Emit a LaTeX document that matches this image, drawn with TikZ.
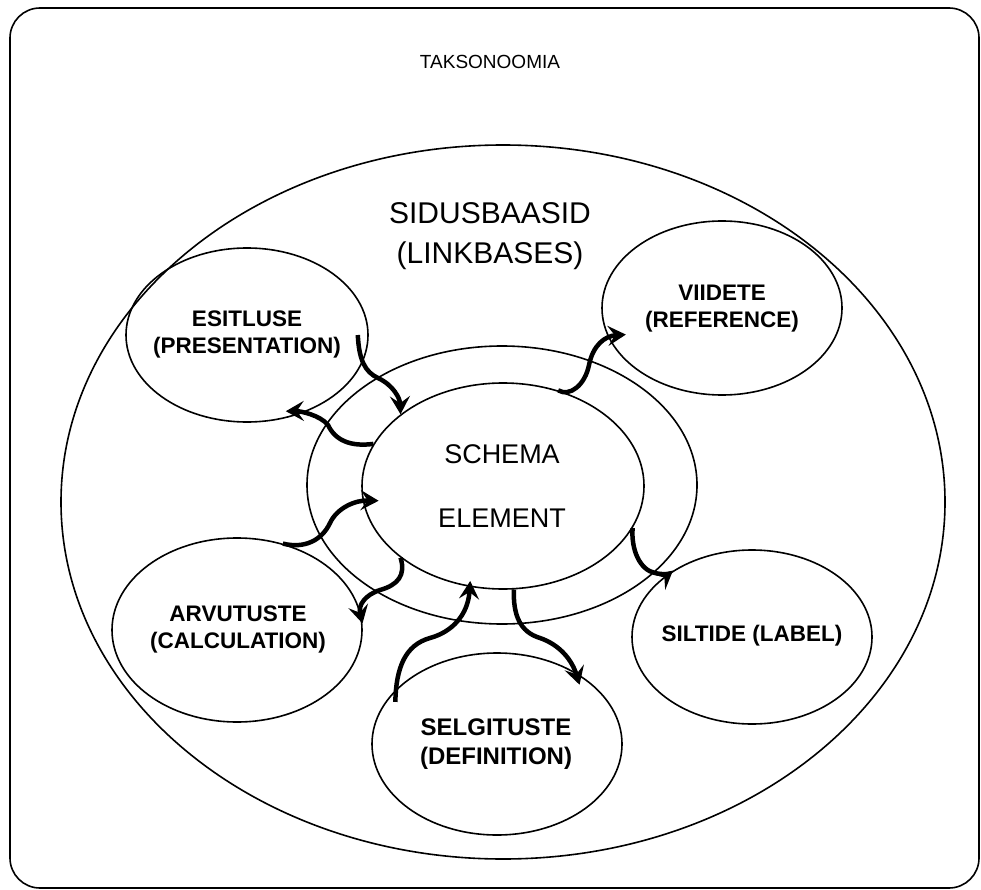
\documentclass[tikz,border=0pt]{standalone}
\usepackage{fontspec}
\setmainfont{Liberation Sans}
\usetikzlibrary{shapes.geometric,arrows.meta}
\tikzset{
  oval/.style={ellipse, draw, line width=1.6pt, inner sep=0pt},
  satlabel/.style={font=\bfseries\fontsize{22.5}{27}\selectfont, align=center},
  flow/.style={line width=4.5pt, -{Stealth[length=18pt,width=20pt,inset=7pt]}},
}
\begin{document}
\begin{tikzpicture}[x=1pt,y=-1pt]
\useasboundingbox (0,0) rectangle (981,890);
\draw[line width=1.6pt, rounded corners=30pt] (10,8) rectangle (979,888);
\node[font=\fontsize{19}{23}\selectfont] (title) at (490,62) {TAKSONOOMIA};
\node[oval, minimum width=884pt, minimum height=714pt] (big) at (503,502) {};
\node[font=\fontsize{30}{40}\selectfont, align=center] (links) at (490,236) {SIDUSBAASID\\(LINKBASES)};
\node[oval, minimum width=390pt, minimum height=278pt] (ring) at (502,485) {};
\node[oval, minimum width=282pt, minimum height=206pt] (inner) at (503,486) {};
\node[font=\fontsize{27}{64}\selectfont, align=center] (innerL) at (502,486) {SCHEMA\\ELEMENT};
\node[oval, minimum width=242pt, minimum height=174pt] (esit) at (247,335) {};
\node[satlabel] (esitL) at (247,334) {ESITLUSE\\(PRESENTATION)};
\node[oval, minimum width=250pt, minimum height=184pt] (arv) at (237,630) {};
\node[satlabel] (arvL) at (238,629) {ARVUTUSTE\\(CALCULATION)};
\node[oval, minimum width=240pt, minimum height=174pt] (vii) at (722,308) {};
\node[satlabel] (viiL) at (722,309) {VIIDETE\\(REFERENCE)};
\node[oval, minimum width=240pt, minimum height=174pt] (sil) at (752,637) {};
\node[satlabel] (silL) at (752,636) {SILTIDE (LABEL)};
\node[oval, minimum width=250pt, minimum height=182pt] (sel) at (497,744) {};
\node[satlabel, font=\bfseries\fontsize{24}{29}\selectfont] (selL) at (496,744) {SELGITUSTE\\(DEFINITION)};
% arrows
\draw[flow] ([xshift=-11pt]esit.east) .. controls (359,360) and (365,372) .. (378,378)
  .. controls (393,385) and (400,398) .. (inner.145);
\draw[flow] (inner.162) .. controls (350,447) and (335,440) .. (328,425)
  .. controls (320,415) and (300,411) .. ([yshift=7pt]esit.-65);
\draw[flow] (arv.62) .. controls (305,549) and (322,540) .. (330,523)
  .. controls (337,508) and (355,500) .. ([xshift=16pt]inner.186);
\draw[flow] (inner.215) .. controls (406,575) and (398,585) .. (380,590)
  .. controls (365,595) and (358,605) .. (arv.3);
\draw[flow] ([yshift=-12pt]sel.152) .. controls (396,668) and (405,645) .. (430,638)
  .. controls (452,632) and (468,615) .. ([yshift=6pt]inner.252);
\draw[flow] (inner.-84) .. controls (513,615) and (520,632) .. (540,638)
  .. controls (560,645) and (572,660) .. ([yshift=-10pt]sel.40);
\draw[flow] (inner.60) .. controls (570,397) and (585,385) .. (589,365)
  .. controls (593,345) and (605,336) .. ([xshift=19pt]vii.193);
\draw[flow] (inner.-18) .. controls (631,550) and (640,570) .. (655,573)
  .. controls (663,575) and (670,573) .. (sil.140);
\end{tikzpicture}
\end{document}
